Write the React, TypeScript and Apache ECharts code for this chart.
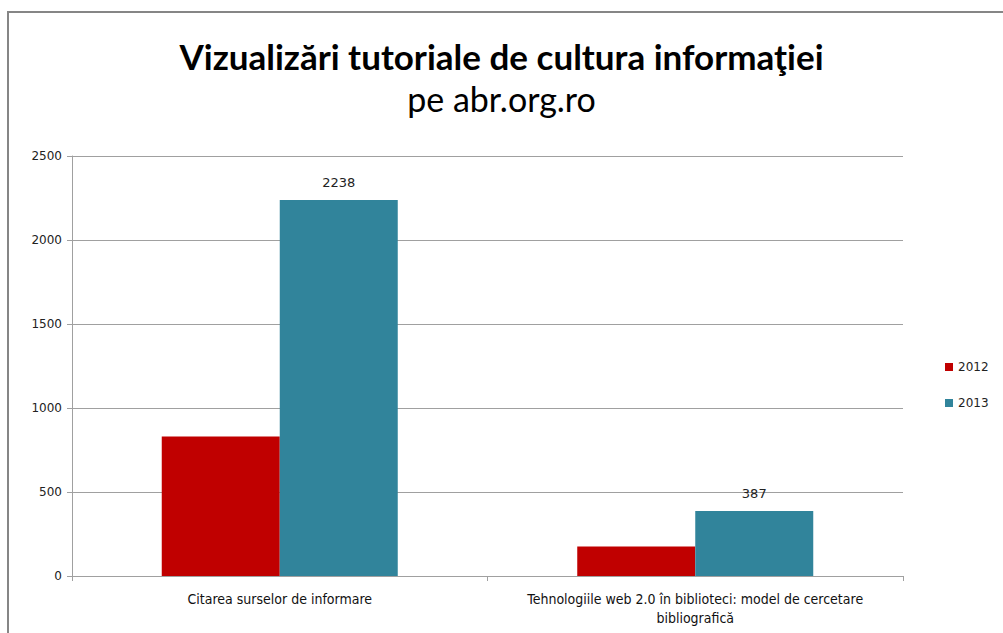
import React, { useEffect, useRef } from "react";
import * as echarts from "echarts";

const categories = [
  "Citarea surselor de informare",
  "Tehnologiile web 2.0 în biblioteci: model de cercetare bibliografică",
];
const series2012 = [830, 175];
const series2013 = [2238, 387];
const seriesNames = ["2012", "2013"];
const titleText = "Vizualizări tutoriale de cultura informaţiei";
const subtitleText = "pe abr.org.ro";

function wrap(text: string, maxChars: number): string {
  const words = text.split(" ");
  const lines: string[] = [];
  let cur = "";
  for (const w of words) {
    const next = cur ? cur + " " + w : w;
    if (next.length > maxChars && cur) {
      lines.push(cur);
      cur = w;
    } else {
      cur = next;
    }
  }
  if (cur) lines.push(cur);
  return lines.join("\n");
}

export default function App() {
  const ref = useRef<HTMLDivElement>(null);
  useEffect(() => {
    if (!ref.current) return;
    const chart = echarts.init(ref.current, undefined, { renderer: "svg" });
    chart.setOption({
      animation: false,
      backgroundColor: "#ffffff",
      title: {
        text: titleText,
        subtext: subtitleText,
        left: "center",
        top: 33,
        itemGap: 8,
        textStyle: { fontFamily: "Lato", fontWeight: "bold", fontSize: 35, color: "#000" },
        subtextStyle: { fontFamily: "Lato", fontWeight: "normal", fontSize: 34, color: "#000" },
      },
      graphic: [
        {
          type: "rect",
          shape: { x: 8, y: 12, width: 1100, height: 800 },
          style: { fill: "none", stroke: "#868686", lineWidth: 2 },
          silent: true,
          z: 100,
        },
      ],
      legend: {
        orient: "vertical",
        left: 940,
        top: 356,
        itemWidth: 8,
        itemHeight: 8,
        itemGap: 24,
        icon: "rect",
        data: seriesNames,
        textStyle: { fontFamily: "DejaVu Sans", fontSize: 12, color: "#222" },
      },
      grid: { left: 72, right: 100, top: 156, bottom: 57, containLabel: false },
      xAxis: {
        type: "category",
        data: categories,
        axisLine: { lineStyle: { color: "#a0a0a0", width: 1 } },
        axisTick: { show: true, length: 5, lineStyle: { color: "#a0a0a0" } },
        axisLabel: {
          fontFamily: "'Liberation Sans Narrow', 'DejaVu Sans Condensed', 'Liberation Sans', sans-serif",
          fontSize: 14,
          color: "#111",
          margin: 13,
          lineHeight: 19,
          interval: 0,
          formatter: (v: string) => wrap(v, 55),
        },
      },
      yAxis: {
        type: "value",
        min: 0,
        max: 2500,
        interval: 500,
        axisLine: { show: true, lineStyle: { color: "#a0a0a0", width: 1 } },
        axisTick: { show: true, length: 5, lineStyle: { color: "#a0a0a0" } },
        splitLine: { lineStyle: { color: "#a0a0a0", width: 1 } },
        axisLabel: {
          fontFamily: "DejaVu Sans",
          fontSize: 12,
          color: "#222",
          margin: 10,
          formatter: (v: number) => String(v),
        },
      },
      series: [
        {
          name: seriesNames[0],
          type: "bar",
          data: series2012,
          barWidth: "28.4%",
          barGap: "0%",
          itemStyle: { color: "#C00000" },
        },
        {
          name: seriesNames[1],
          type: "bar",
          data: series2013,
          barWidth: "28.4%",
          barGap: "0%",
          itemStyle: { color: "#31849B" },
          label: {
            show: true,
            position: "top",
            distance: 11,
            fontFamily: "DejaVu Sans",
            fontSize: 13,
            color: "#222",
          },
        },
      ],
    });
    return () => chart.dispose();
  }, []);
  return (
    <div
      ref={ref}
      style={{ position: "absolute", left: 0, top: 0, width: 1003, height: 633 }}
    />
  );
}
